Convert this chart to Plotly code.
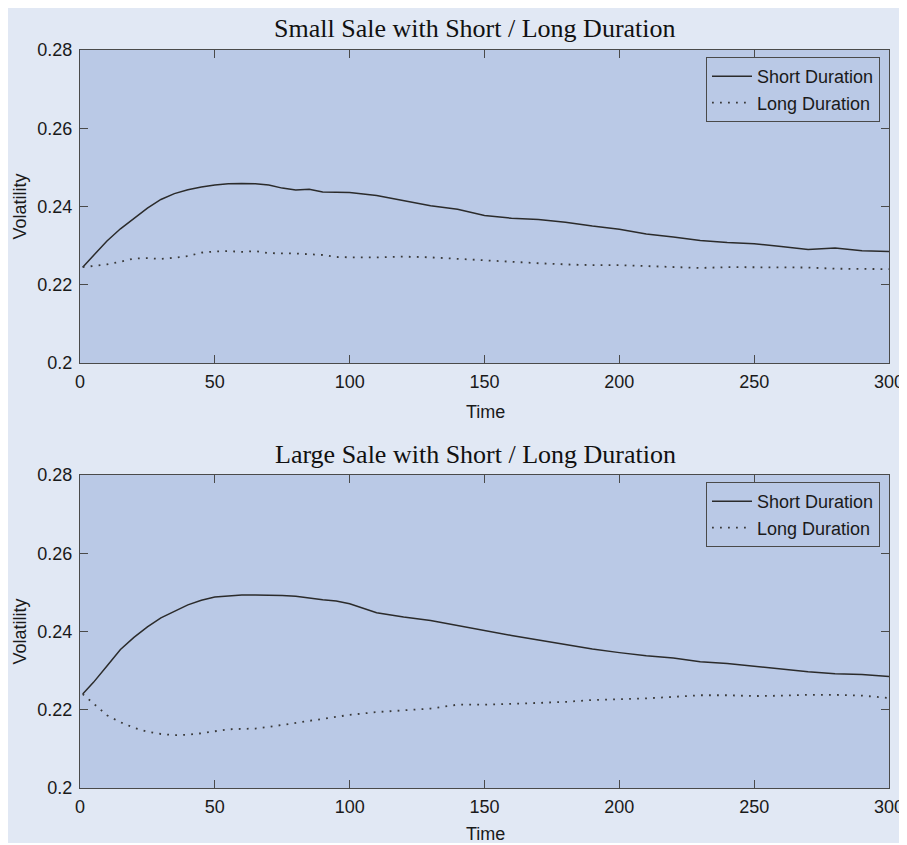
import plotly.graph_objects as go
from plotly.subplots import make_subplots

time = [1, 5, 10, 15, 20, 25, 30, 35, 40, 45, 50, 55, 60, 65, 70, 75, 80, 85, 90, 95, 100,
        110, 120, 130, 140, 150, 160, 170, 180, 190, 200, 210, 220, 230, 240, 250, 260,
        270, 280, 290, 300]

small_short = [0.2245, 0.2275, 0.2312, 0.2343, 0.2370, 0.2396, 0.2418, 0.2433, 0.2443, 0.2450,
               0.2455, 0.2458, 0.2459, 0.2458, 0.2455, 0.2447, 0.2442, 0.2444, 0.2437, 0.2436,
               0.2436, 0.2428, 0.2415, 0.2402, 0.2393, 0.2377, 0.2370, 0.2367, 0.2360, 0.2350,
               0.2342, 0.2330, 0.2322, 0.2313, 0.2308, 0.2305, 0.2298, 0.2290, 0.2294, 0.2287,
               0.2285]
small_long = [0.2245, 0.2248, 0.2252, 0.2259, 0.2267, 0.2268, 0.2266, 0.2269, 0.2273, 0.2282,
              0.2285, 0.2286, 0.2284, 0.2286, 0.2281, 0.2280, 0.2280, 0.2278, 0.2276, 0.2271,
              0.2270, 0.2270, 0.2272, 0.2270, 0.2266, 0.2262, 0.2258, 0.2255, 0.2252, 0.2250,
              0.2250, 0.2248, 0.2246, 0.2243, 0.2245, 0.2245, 0.2244, 0.2244, 0.2241, 0.2240,
              0.2240]
large_short = [0.2240, 0.2270, 0.2312, 0.2354, 0.2385, 0.2412, 0.2435, 0.2452, 0.2468, 0.2480,
               0.2488, 0.2491, 0.2493, 0.2493, 0.2493, 0.2492, 0.2490, 0.2485, 0.2481, 0.2478,
               0.2471, 0.2448, 0.2437, 0.2428, 0.2415, 0.2403, 0.2390, 0.2378, 0.2367, 0.2355,
               0.2346, 0.2338, 0.2332, 0.2323, 0.2318, 0.2311, 0.2303, 0.2297, 0.2292, 0.2290,
               0.2285]
large_long = [0.2240, 0.2217, 0.2186, 0.2168, 0.2154, 0.2144, 0.2138, 0.2135, 0.2136, 0.2140,
              0.2145, 0.2150, 0.2151, 0.2152, 0.2156, 0.2161, 0.2167, 0.2172, 0.2176, 0.2181,
              0.2187, 0.2194, 0.2198, 0.2203, 0.2213, 0.2213, 0.2215, 0.2218, 0.2220, 0.2225,
              0.2227, 0.2229, 0.2233, 0.2237, 0.2237, 0.2235, 0.2236, 0.2238, 0.2238, 0.2236,
              0.2230]

x_ticks = [0, 50, 100, 150, 200, 250, 300]
y_ticks = [0.2, 0.22, 0.24, 0.26, 0.28]
y_tick_text = ["0.2", "0.22", "0.24", "0.26", "0.28"]
titles = ["Small Sale with Short / Long Duration", "Large Sale with Short / Long Duration"]
series_names = ["Short Duration", "Long Duration"]

# page body has an 8px margin; positions below are given in window pixels
OFF = 8
W, H = 899, 835
L, R, T, B = 72, 18, 42, 55
PH = H - T - B  # 738
PW = W - L - R  # 809


def py(p):
    return (H - B - (p - OFF)) / PH


def px(p):
    return (p - OFF - L) / PW


SANS = "Liberation Sans, Arial, sans-serif"
SERIF = "Liberation Serif, Times New Roman, serif"
PLOT_BG = "#bac9e6"
PAPER_BG = "#e1e8f4"
AX = "#4a4a4a"
TXT = "#1a1a1a"
FS = 18

fig = make_subplots(rows=2, cols=1, vertical_spacing=(475 - 363) / PH)

data = [(small_short, small_long, "legend"), (large_short, large_long, "legend2")]
for i, (s, l, lg) in enumerate(data):
    row = i + 1
    fig.add_trace(go.Scatter(x=time, y=s, mode="lines", name=series_names[0], legend=lg,
                             line=dict(color="#2b2b2b", width=1.5)), row=row, col=1)
    fig.add_trace(go.Scatter(x=time, y=l, mode="lines", name=series_names[1], legend=lg,
                             line=dict(color="#3a3a3a", width=1.8, dash="1.8px,6.2px")),
                  row=row, col=1)

axis_common = dict(showline=True, mirror="allticks", linecolor=AX, linewidth=1,
                   ticks="inside", ticklen=8, tickcolor=AX, showgrid=False, zeroline=False,
                   tickfont=dict(family=SANS, size=FS, color=TXT))
for row in (1, 2):
    fig.update_xaxes(range=[0, 300], tickvals=x_ticks, ticklabelstandoff=2,
                     **axis_common, row=row, col=1)
    fig.update_yaxes(range=[0.2, 0.28], tickvals=y_ticks, ticktext=y_tick_text,
                     ticklabelstandoff=3, **axis_common, row=row, col=1)

center = dict(xref="paper", yref="paper", xanchor="center", yanchor="middle", showarrow=False)
ann = []
ann.append(dict(text=titles[0], x=px(475), y=py(29),
                font=dict(family=SERIF, size=26, color="#111"), **center))
ann.append(dict(text=titles[1], x=px(475), y=py(454),
                font=dict(family=SERIF, size=26, color="#111"), **center))
for cy in (412, 834):
    ann.append(dict(text="Time", x=px(485), y=py(cy),
                    font=dict(family=SANS, size=FS, color=TXT), **center))
for cy in (206.5, 631.5):
    ann.append(dict(text="Volatility", x=px(19), y=py(cy), textangle=-90,
                    font=dict(family=SANS, size=FS, color=TXT), **center))

legend_common = dict(bgcolor=PLOT_BG, bordercolor=AX, borderwidth=1,
                     font=dict(family=SANS, size=FS, color=TXT), itemwidth=40,
                     xanchor="right", yanchor="top", tracegroupgap=0)

fig.update_layout(
    width=W, height=H,
    margin=dict(l=L, r=R, t=T, b=B, autoexpand=False),
    paper_bgcolor=PAPER_BG, plot_bgcolor=PLOT_BG,
    annotations=ann,
    legend=dict(x=px(880), y=py(57), **legend_common),
    legend2=dict(x=px(880), y=py(482), **legend_common),
)

fig.write_html("out.html")
